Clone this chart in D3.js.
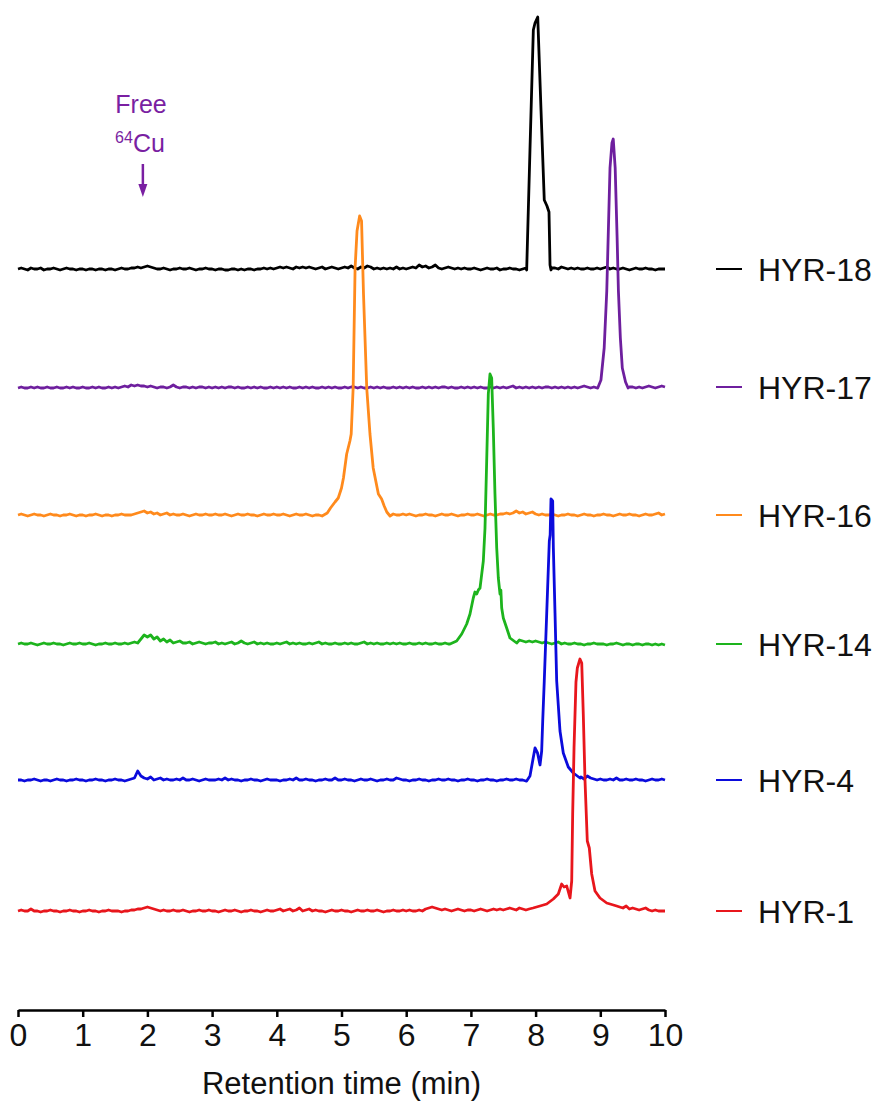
<!DOCTYPE html>
<html>
<head>
<meta charset="utf-8">
<script src="https://cdn.jsdelivr.net/npm/d3@7"></script>
<style>
  body { margin: 0; background: #fff; }
  svg { display: block; }
  text { font-family: "Liberation Sans", Arial, Helvetica, sans-serif; }
</style>
</head>
<body>
<svg id="chart" width="880" height="1102"></svg>
<script>
// Radio-HPLC traces, one per compound, stacked top to bottom.
const seriesNames  = ["HYR-18", "HYR-17", "HYR-16", "HYR-14", "HYR-4", "HYR-1"];
const seriesColors = ["#000000", "#6e1f9e", "#ff8a1c", "#1db41d", "#0b0bdc", "#e8161c"];
const xTickValues  = [0, 1, 2, 3, 4, 5, 6, 7, 8, 9, 10];

// Baseline signal, sampled every 0.05 min from 0 to 10 min (arbitrary units).
const sampleStep = 0.05;
const baseHYR18 = [
  1,2,1,0,2,1,1,2,0,1,1,2,1,0,1,2,1,1,0,1,
  1,0,1,1,0,1,1,0,1,1,0,1,2,1,1,2,2,3,2,3,
  4,3,2,1,1,2,1,0,1,1,2,1,1,2,1,0,1,1,2,1,
  1,0,1,1,0,0,1,1,0,1,0,1,1,0,1,1,2,1,2,1,
  2,3,2,3,2,1,3,2,3,2,3,2,1,2,3,1,2,3,2,1,
  2,3,2,4,2,1,3,2,4,3,1,2,1,2,1,2,1,3,1,2,
  1,2,3,2,5,3,4,2,3,5,2,1,2,3,2,1,2,1,2,1,
  1,2,1,0,1,2,1,1,2,0,1,1,2,1,1,0,1,2,1,1,
  1,1,1,1,1,2,2,1,3,2,1,2,1,2,1,1,2,1,1,2,
  1,2,3,1,2,1,1,2,1,0,1,2,1,1,2,1,1,0,1,1,
  1
];
const baseHYR17 = [
  0,1,0,0,1,0,1,0,0,1,0,0,1,0,0,1,0,1,0,0,
  1,0,0,1,0,1,0,0,1,0,1,0,1,2,1,3,2,3,2,2,
  1,2,1,0,1,1,0,1,3,1,0,1,1,0,1,0,1,1,0,1,
  0,1,0,1,0,1,1,0,1,0,0,1,0,1,0,1,0,0,1,0,
  1,0,1,0,1,0,0,1,0,1,0,1,0,0,1,0,1,0,1,0,
  0,1,0,1,1,0,1,0,0,1,0,1,0,1,0,0,1,0,1,0,
  1,0,1,0,0,1,0,1,0,1,0,1,1,0,1,0,0,1,0,1,
  0,1,0,1,0,0,1,0,1,0,1,0,1,2,0,1,0,1,0,1,
  0,1,0,1,1,0,1,0,1,0,1,0,1,0,1,2,1,0,1,0,
  1,0,1,1,0,1,0,1,0,1,1,0,1,0,1,2,1,0,1,2,
  1
];
const baseHYR16 = [
  1,2,1,0,1,2,1,1,0,1,2,1,1,0,1,1,2,1,0,1,
  1,0,1,1,2,1,0,1,1,0,1,1,2,1,1,1,2,3,4,5,
  3,4,2,3,1,2,3,1,2,1,1,2,1,0,1,2,1,1,2,1,
  1,2,1,1,2,1,0,1,2,1,1,2,1,1,0,1,2,1,1,2,
  1,1,2,1,0,1,2,1,1,2,1,0,1,1,2,1,1,2,1,1,
  1,2,1,1,0,1,2,1,1,2,1,1,2,1,0,1,2,1,1,2,
  1,2,1,0,1,1,2,1,1,0,1,2,1,1,2,1,0,1,1,2,
  1,1,2,1,0,1,2,1,1,2,2,3,2,3,5,3,4,2,3,4,
  2,1,2,1,1,2,1,0,1,1,2,1,1,0,1,2,1,1,0,1,
  1,2,1,1,0,1,2,1,1,2,1,1,0,1,2,1,1,2,3,1,
  2
];
const baseHYR14 = [
  1,2,1,1,2,1,0,1,2,1,1,2,1,1,0,1,2,1,1,2,
  1,1,2,1,0,1,1,2,1,1,2,1,1,2,1,2,3,2,6,10,
  8,10,6,8,4,6,3,5,2,3,4,2,2,3,1,2,3,2,1,2,
  2,3,1,2,1,2,3,1,2,4,2,1,2,3,1,2,1,2,1,1,
  2,1,2,3,1,2,1,2,1,1,2,1,2,3,1,2,1,1,2,1,
  1,2,1,2,1,1,2,3,1,2,1,2,1,1,2,1,2,1,2,1,
  1,2,1,1,2,1,2,1,1,2,1,1,2,1,2,1,1,2,1,1,
  2,2,2,2,2,2,2,2,2,2,2,2,2,2,2,5,4,3,4,3,
  4,3,2,3,2,1,2,3,1,2,1,1,2,1,1,0,1,1,2,1,
  1,1,0,1,1,2,1,0,1,1,0,1,1,0,1,1,0,1,0,1,
  0
];
const baseHYR4 = [
  1,1,0,1,1,2,1,0,1,1,0,1,2,1,1,0,1,1,2,1,
  1,0,1,1,2,1,1,0,1,1,2,1,1,0,1,2,3,10,5,3,
  2,4,1,2,3,1,2,1,1,2,1,3,1,1,2,1,0,1,2,1,
  1,1,2,1,3,1,2,1,1,0,1,1,2,1,1,0,1,2,1,1,
  1,0,1,1,2,1,3,1,1,2,1,1,0,1,1,2,1,1,3,1,
  1,2,1,1,0,1,2,1,1,2,1,0,1,1,2,1,1,3,2,1,
  1,0,1,1,2,1,1,0,1,1,2,1,1,2,1,1,0,1,1,2,
  1,1,0,1,1,2,1,1,0,1,1,2,1,1,2,1,1,0,1,1,
  1,1,1,1,1,1,1,1,1,1,1,1,1,1,4,2,5,3,2,1,
  2,1,1,2,1,3,1,1,2,1,1,2,1,1,0,1,2,1,1,2,
  1
];
const baseHYR1 = [
  1,2,1,1,3,1,1,0,1,1,2,1,1,0,1,1,2,1,1,0,
  1,1,2,1,1,0,1,1,2,1,1,1,0,1,1,2,2,3,3,4,
  5,4,3,2,1,2,1,1,2,1,1,2,1,0,1,1,2,1,1,2,
  1,1,0,1,2,1,1,2,1,0,1,1,2,1,1,0,1,2,1,1,
  2,3,1,2,3,1,2,4,1,2,3,1,2,1,1,0,1,2,1,1,
  2,1,1,0,1,2,1,1,2,1,1,2,1,0,1,1,2,1,1,2,
  1,2,1,1,2,1,3,4,5,4,3,2,3,2,1,2,3,2,1,2,
  2,1,2,3,2,1,2,3,2,3,2,3,4,3,2,4,3,2,4,5,
  1,1,1,1,1,1,1,1,1,1,1,1,1,1,1,1,1,1,1,1,
  1,1,1,1,1,1,5,4,6,3,4,3,2,3,4,2,1,2,1,1,
  1
];

// Peak regions: [retention time (min), signal]
const peakHYR18 = [
  [7.862, 0], [7.913, 120], [7.965, 240], [7.991, 247], [8.033, 253],
  [8.083, 161], [8.134, 70], [8.176, 64], [8.207, 58], [8.223, 5], [8.238, 0]
];
const peakHYR17 = [
  [8.96, 0], [9.01, 8], [9.06, 40], [9.10, 97], [9.15, 220], [9.18, 245],
  [9.20, 249], [9.23, 220], [9.26, 150], [9.28, 97], [9.31, 50], [9.34, 20],
  [9.39, 6], [9.43, 0]
];
const peakHYR16 = [
  [4.70, 0], [4.78, 3], [4.83, 8], [4.90, 14], [4.95, 18], [5.00, 28],
  [5.03, 38], [5.08, 62], [5.13, 75], [5.15, 82], [5.18, 128], [5.21, 248],
  [5.24, 285], [5.28, 300], [5.31, 295], [5.34, 222], [5.39, 128], [5.44, 82],
  [5.49, 48], [5.57, 22], [5.62, 17], [5.66, 10], [5.70, 4], [5.75, 0]
];
const peakHYR14 = [
  [6.677, 1], [6.780, 4], [6.858, 11], [6.935, 21], [6.986, 31], [7.037, 47],
  [7.063, 53], [7.090, 51], [7.115, 55], [7.141, 57], [7.192, 84], [7.218, 117],
  [7.244, 184], [7.269, 251], [7.295, 271], [7.321, 267], [7.346, 217],
  [7.372, 151], [7.399, 97], [7.424, 67], [7.450, 51], [7.463, 55], [7.476, 37],
  [7.501, 27], [7.553, 17], [7.604, 7], [7.708, 2]
];
const peakHYR4 = [
  [7.862, 0], [7.913, 5], [7.960, 22], [7.991, 33], [8.030, 28], [8.068, 16],
  [8.094, 30], [8.110, 60], [8.134, 100], [8.172, 168], [8.212, 240],
  [8.225, 246], [8.238, 282], [8.264, 280], [8.274, 234], [8.300, 168],
  [8.326, 100], [8.377, 50], [8.428, 28], [8.505, 14], [8.583, 8], [8.686, 3]
];
const peakHYR1 = [
  [7.900, 3], [7.960, 4], [8.068, 6], [8.172, 8], [8.274, 13], [8.351, 18],
  [8.403, 28], [8.440, 25], [8.481, 26], [8.532, 14], [8.558, 31], [8.573, 98],
  [8.594, 164], [8.624, 230], [8.645, 244], [8.686, 253], [8.713, 249],
  [8.737, 198], [8.764, 131], [8.799, 71], [8.830, 64], [8.867, 38],
  [8.918, 21], [8.995, 14], [9.099, 9], [9.253, 6]
];

const baselines = [baseHYR18, baseHYR17, baseHYR16, baseHYR14, baseHYR4, baseHYR1];
const peaks     = [peakHYR18, peakHYR17, peakHYR16, peakHYR14, peakHYR4, peakHYR1];

// Vertical stacking of each trace (signal units added to the trace).
const stackOffsets = [740, 622, 494, 365, 229, 98];

// ---- layout ----
const svg = d3.select("#chart");
const axisY = 1010;
const x = d3.scaleLinear().domain([0, 10]).range([18, 665]);
const y = d3.scaleLinear().domain([0, 1000]).range([axisY, axisY - 1000]);

// Merge baseline samples with the peak region of each trace.
function buildTrace(base, peak) {
  const t0 = peak[0][0], t1 = peak[peak.length - 1][0];
  const pts = base.map((v, i) => [i * sampleStep, v])
    .filter(p => p[0] < t0 || p[0] > t1)
    .concat(peak);
  return pts.sort((a, b) => a[0] - b[0]);
}

const traces = seriesNames.map((name, i) => ({
  name,
  color: seriesColors[i],
  offset: stackOffsets[i],
  points: buildTrace(baselines[i], peaks[i])
}));

const line = d3.line()
  .x(d => x(d[0]))
  .y(d => y(d[1]));

svg.append("g").selectAll("path")
  .data(traces)
  .join("path")
  .attr("fill", "none")
  .attr("stroke", d => d.color)
  .attr("stroke-width", 2.8)
  .attr("stroke-linejoin", "round")
  .attr("d", d => line(d.points.map(p => [p[0], p[1] + d.offset])));

// ---- x axis ----
const xAxis = d3.axisBottom(x)
  .tickValues(xTickValues)
  .tickFormat(d3.format("d"))
  .tickSize(7)
  .tickSizeOuter(0)
  .tickPadding(6);

const gx = svg.append("g")
  .attr("transform", `translate(0,${axisY})`)
  .call(xAxis);
gx.select(".domain").attr("stroke", "#000").attr("stroke-width", 2.5);
gx.selectAll(".tick line").attr("stroke", "#000").attr("stroke-width", 2.5);
gx.selectAll(".tick text")
  .attr("fill", "#111")
  .style("font-size", "32px")
  .style("font-family", '"Liberation Sans", Arial, sans-serif');

svg.append("text")
  .attr("x", (x(0) + x(10)) / 2)
  .attr("y", 1094)
  .attr("text-anchor", "middle")
  .attr("fill", "#111")
  .style("font-size", "31px")
  .text("Retention time (min)");

// ---- legend, aligned with each trace's baseline ----
const legend = svg.append("g").selectAll("g")
  .data(traces)
  .join("g")
  .attr("transform", d => `translate(0,${y(d.offset + 1)})`);

legend.append("line")
  .attr("x1", 716).attr("x2", 742)
  .attr("stroke", d => d.color)
  .attr("stroke-width", 2);

legend.append("text")
  .attr("x", 758)
  .attr("dy", "0.36em")
  .attr("fill", "#111")
  .style("font-size", "32px")
  .text(d => d.name);

// ---- free copper annotation ----
const annoColor = "#7a1fa2";
const anno = svg.append("g").attr("fill", annoColor);
anno.append("text")
  .attr("x", 141).attr("y", 113)
  .attr("text-anchor", "middle")
  .style("font-size", "25px")
  .text("Free");
const cu = anno.append("text")
  .attr("x", 140).attr("y", 152)
  .attr("text-anchor", "middle")
  .style("font-size", "25px");
cu.append("tspan").attr("dy", -9).style("font-size", "16px").text("64");
cu.append("tspan").attr("dy", 9).text("Cu");

const arrowX = x(1.93);
svg.append("line")
  .attr("x1", arrowX).attr("x2", arrowX)
  .attr("y1", 164).attr("y2", 186)
  .attr("stroke", annoColor)
  .attr("stroke-width", 2.5);
svg.append("path")
  .attr("d", `M${arrowX - 4.5},184 L${arrowX + 4.5},184 L${arrowX},197 Z`)
  .attr("fill", annoColor);
</script>
</body>
</html>
